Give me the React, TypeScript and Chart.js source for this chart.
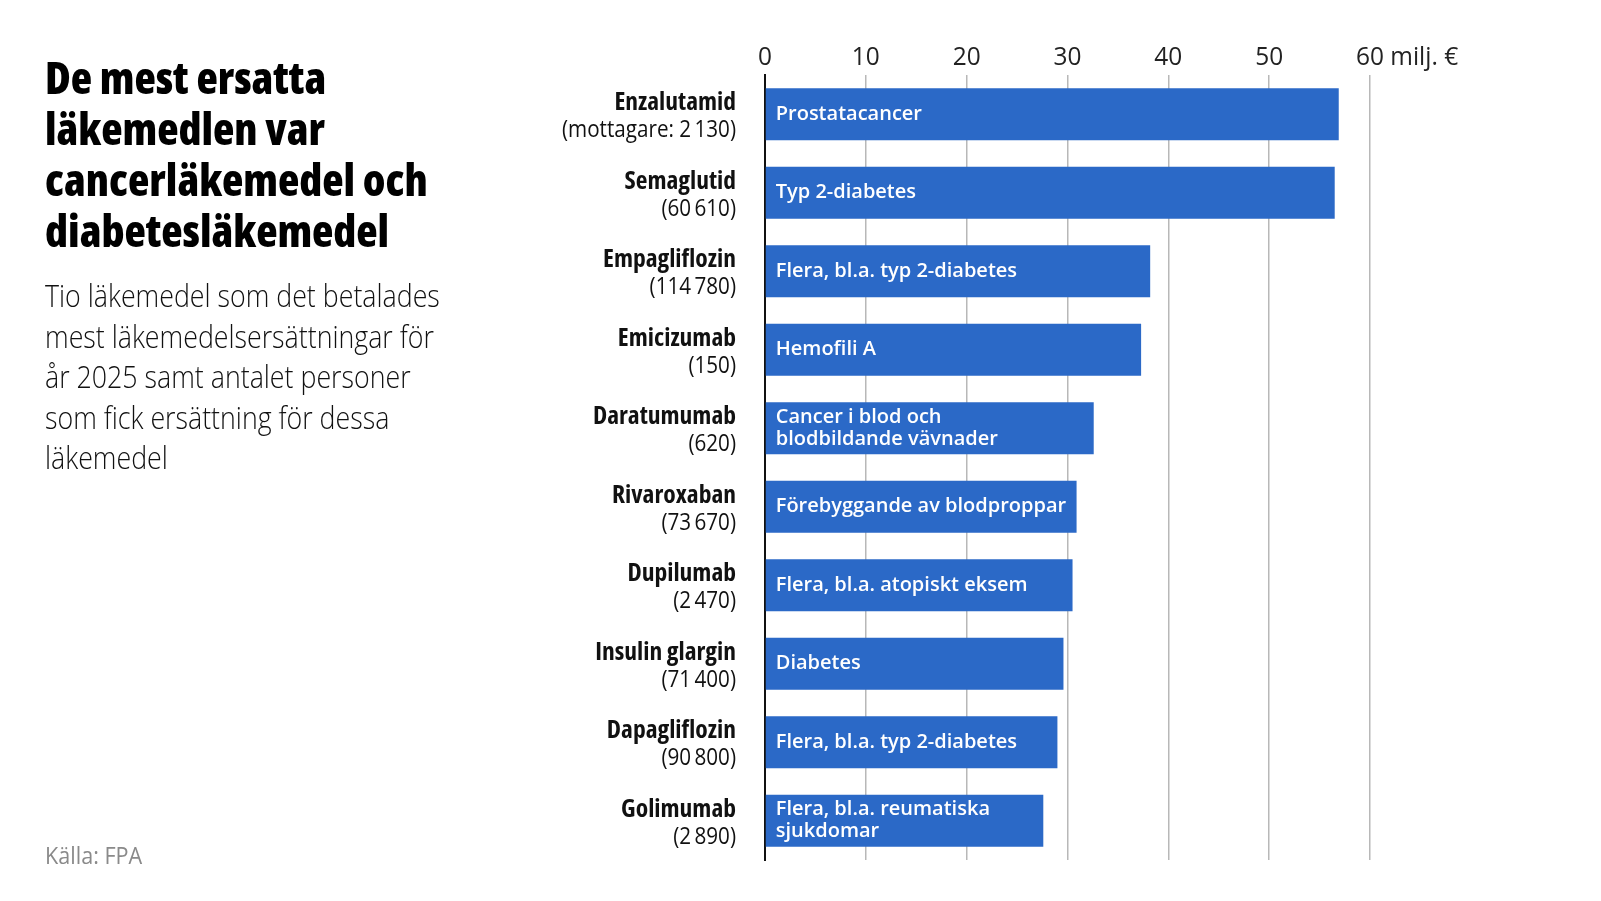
import React, { useEffect, useRef } from "react";
import { Chart, registerables } from "chart.js";

Chart.register(...registerables);

const categories = [
  "Enzalutamid",
  "Semaglutid",
  "Empagliflozin",
  "Emicizumab",
  "Daratumumab",
  "Rivaroxaban",
  "Dupilumab",
  "Insulin glargin",
  "Dapagliflozin",
  "Golimumab",
];
const recipients = [
  "(mottagare: 2\u2009130)",
  "(60\u2009610)",
  "(114\u2009780)",
  "(150)",
  "(620)",
  "(73\u2009670)",
  "(2\u2009470)",
  "(71\u2009400)",
  "(90\u2009800)",
  "(2\u2009890)",
];
const values = [56.9, 56.5, 38.2, 37.3, 32.6, 30.9, 30.5, 29.6, 29.0, 27.6];
const barLabels = [
  "Prostatacancer",
  "Typ 2-diabetes",
  "Flera, bl.a. typ 2-diabetes",
  "Hemofili A",
  "Cancer i blod och\nblodbildande vävnader",
  "Förebyggande av blodproppar",
  "Flera, bl.a. atopiskt eksem",
  "Diabetes",
  "Flera, bl.a. typ 2-diabetes",
  "Flera, bl.a. reumatiska\nsjukdomar",
];
const xTicks = [0, 10, 20, 30, 40, 50, 60];
const unitLabel = "milj. €";

const titleLines = ["De mest ersatta", "läkemedlen var", "cancerläkemedel och", "diabetesläkemedel"];
const subtitleLines = [
  "Tio läkemedel som det betalades",
  "mest läkemedelsersättningar för",
  "år 2025 samt antalet personer",
  "som fick ersättning för dessa",
  "läkemedel",
];
const sourceText = "Källa: FPA";

const FONT = '"Open Sans", "Noto Sans", sans-serif';

function drawScaled(ctx: CanvasRenderingContext2D, text: string, x: number, y: number, k: number, align: CanvasTextAlign) {
  ctx.save();
  ctx.translate(x, y);
  ctx.scale(k, 1);
  ctx.textAlign = align;
  ctx.fillText(text, 0, 0);
  ctx.restore();
}

const labelsPlugin = {
  id: "customLabels",
  afterDraw(chart: any) {
    const ctx = chart.ctx as CanvasRenderingContext2D;
    const xs = chart.scales.x;
    const ys = chart.scales.y;
    const area = chart.chartArea;
    ctx.save();
    // x tick labels
    ctx.fillStyle = "#222";
    ctx.font = `26px ${FONT}`;
    (ctx as any).fontStretch = "normal";
    ctx.textBaseline = "middle";
    const kx = 0.94;
    xTicks.forEach((v, i) => {
      const x = xs.getPixelForValue(v);
      const num = String(v);
      if (i === xTicks.length - 1) {
        const w = ctx.measureText(num).width * kx;
        drawScaled(ctx, num + " " + unitLabel, x - w / 2, 58, kx, "left");
      } else {
        drawScaled(ctx, num, x, 58, kx, "center");
      }
    });
    // y category labels
    categories.forEach((c, i) => {
      const y = ys.getPixelForValue(i);
      ctx.fillStyle = "#111";
      ctx.font = `bold 25.5px ${FONT}`;
      (ctx as any).fontStretch = "condensed";
      drawScaled(ctx, c, area.left - 29, y - 11.5, 1, "right");
      ctx.font = `24px ${FONT}`;
      (ctx as any).fontStretch = "normal";
      drawScaled(ctx, recipients[i], area.left - 29, y + 16, 0.86, "right");
    });
    // bar labels
    const meta = chart.getDatasetMeta(0);
    ctx.fillStyle = "#fff";
    ctx.font = `600 20px ${FONT}`;
    (ctx as any).fontStretch = "normal";
    meta.data.forEach((el: any, i: number) => {
      const lines = barLabels[i].split("\n");
      const lh = 22;
      const y0 = el.y - ((lines.length - 1) * lh) / 2;
      lines.forEach((ln, k) => {
        drawScaled(ctx, ln, el.base + 10, y0 + k * lh, 1, "left");
      });
    });
    ctx.restore();
  },
};

export default function App() {
  const ref = useRef<HTMLCanvasElement>(null);
  useEffect(() => {
    document.body.style.margin = "0";
    const chart = new Chart(ref.current!, {
      type: "bar",
      data: {
        labels: categories,
        datasets: [
          {
            data: values,
            backgroundColor: "#2b69c7",
            borderWidth: 0,
            barPercentage: 0.665,
            categoryPercentage: 1,
          },
        ],
      },
      options: {
        indexAxis: "y",
        animation: false,
        responsive: false,
        devicePixelRatio: 1,
        layout: { padding: { left: 765, right: 231, top: 75, bottom: 41 } },
        plugins: { legend: { display: false }, tooltip: { enabled: false } },
        scales: {
          x: {
            position: "top",
            min: 0,
            max: 60,
            ticks: { display: false, stepSize: 10 },
            grid: { color: "#b8b8b8", lineWidth: 1.5, drawTicks: false },
            border: { display: false },
          },
          y: {
            ticks: { display: false },
            grid: { display: false, drawTicks: false },
            border: { display: true, color: "#111", width: 2 },
          },
        },
      },
      plugins: [labelsPlugin],
    });
    return () => chart.destroy();
  }, []);

  return (
    <div style={{ position: "absolute", left: 0, top: 0, width: 1601, height: 901, background: "#fff" }}>
      <canvas ref={ref} width={1601} height={901} style={{ position: "absolute", left: 0, top: 0 }} />
      <div
        style={{
          position: "absolute",
          left: 45,
          top: 52,
          fontFamily: FONT,
          fontStretch: "75%",
          fontWeight: 800,
          fontSize: 44,
          lineHeight: "51px",
          color: "#000",
          whiteSpace: "nowrap",
        }}
      >
        {titleLines.map((l, i) => (
          <div key={i}>{l}</div>
        ))}
      </div>
      <div
        style={{
          position: "absolute",
          left: 45,
          top: 275,
          fontFamily: FONT,
          fontWeight: 300,
          fontSize: 31,
          lineHeight: "40.6px",
          color: "#111",
          whiteSpace: "nowrap",
          transform: "scaleX(0.863)",
          transformOrigin: "left top",
        }}
      >
        {subtitleLines.map((l, i) => (
          <div key={i}>{l}</div>
        ))}
      </div>
      <div
        style={{
          position: "absolute",
          left: 45,
          top: 838,
          fontFamily: FONT,
          fontSize: 24,
          color: "#8a8a8a",
          whiteSpace: "nowrap",
          transform: "scaleX(0.9)",
          transformOrigin: "left top",
        }}
      >
        {sourceText}
      </div>
    </div>
  );
}
